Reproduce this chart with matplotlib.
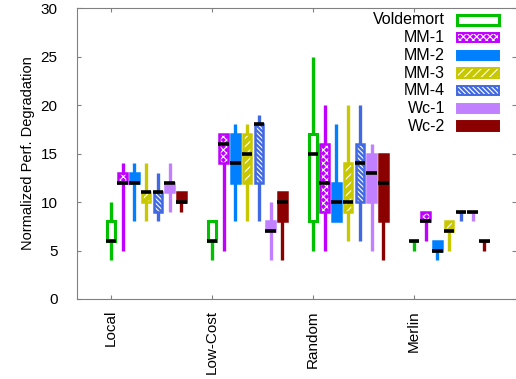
import matplotlib.pyplot as plt
from matplotlib.patches import Rectangle

plt.rcParams['font.family'] = ['Liberation Sans', 'DejaVu Sans']
plt.rcParams['hatch.linewidth'] = 0.8

groups = ['Local', 'Low-Cost', 'Random', 'Merlin']
series = ['Voldemort', 'MM-1', 'MM-2', 'MM-3', 'MM-4', 'Wc-1', 'Wc-2']
colors = ['#00c000', '#c000ff', '#0080ff', '#c8c800', '#4169e1', '#c080ff', '#8b0000']
hatches = [None, 'xxxxx', None, '////', '\\\\\\\\\\\\\\', None, None]

# per series: one value per group (Local, Low-Cost, Random, Merlin)
mins = {
    'Voldemort': [4, 4, 5, 5], 'MM-1': [5, 5, 5, 6], 'MM-2': [8, 8, 8, 4],
    'MM-3': [8, 8, 6, 5], 'MM-4': [8, 8, 6, 8], 'Wc-1': [9, 4, 5, 8],
    'Wc-2': [9, 4, 4, 5]}
q1s = {
    'Voldemort': [6, 6, 8, 6], 'MM-1': [12, 14, 9, 8], 'MM-2': [12, 12, 8, 5],
    'MM-3': [10, 12, 9, 7], 'MM-4': [9, 12, 10, 9], 'Wc-1': [11, 7, 10, 9],
    'Wc-2': [10, 8, 8, 6]}
medians = {
    'Voldemort': [6, 6, 15, 6], 'MM-1': [12, 16, 12, 8], 'MM-2': [12, 14, 10, 5],
    'MM-3': [11, 15, 10, 7], 'MM-4': [11, 18, 14, 9], 'Wc-1': [12, 7, 13, 9],
    'Wc-2': [10, 10, 12, 6]}
q3s = {
    'Voldemort': [8, 8, 17, 6], 'MM-1': [13, 17, 16, 9], 'MM-2': [13, 17, 12, 6],
    'MM-3': [11, 17, 14, 8], 'MM-4': [11, 18, 16, 9], 'Wc-1': [12, 8, 15, 9],
    'Wc-2': [11, 11, 15, 6]}
maxs = {
    'Voldemort': [10, 8, 25, 6], 'MM-1': [14, 17, 20, 9], 'MM-2': [14, 18, 18, 6],
    'MM-3': [14, 18, 20, 8], 'MM-4': [13, 19, 20, 9], 'Wc-1': [14, 10, 16, 9],
    'Wc-2': [11, 11, 15, 6]}

fig = plt.figure(figsize=(5.16, 3.79), dpi=100)
ax = fig.add_axes([77 / 516, 80 / 379, 439 / 516, 291 / 379])

step = 0.116
bw = 0.085
for i, name in enumerate(series):
    c = colors[i]
    xs = [g + i * step for g in range(len(groups))]
    lo = q1s[name]
    h = [q3 - q1 for q1, q3 in zip(q1s[name], q3s[name])]
    ax.vlines(xs, mins[name], maxs[name], colors=c, lw=2.4, zorder=1)
    if name == 'Voldemort':
        ax.bar(xs, h, bw, bottom=lo, facecolor='white', edgecolor=c, lw=2.2, zorder=2)
    else:
        ax.bar(xs, h, bw, bottom=lo, facecolor=c, edgecolor='white', lw=0,
               hatch=hatches[i], zorder=2)
        ax.bar(xs, h, bw, bottom=lo, fill=False, edgecolor=c, lw=1.8, zorder=3)
    ax.hlines(medians[name], [x - 0.052 for x in xs], [x + 0.052 for x in xs],
              colors='black', lw=2.6, zorder=4)

# legend drawn by hand, gnuplot style
for i, name in enumerate(series):
    y = 0.959 - i * 0.0608
    ax.text(0.838, y, name, transform=ax.transAxes, ha='right', va='center', fontsize=11.5)
    if name == 'Voldemort':
        ax.add_patch(Rectangle((0.866, y - 0.016), 0.095, 0.032, transform=ax.transAxes,
                               facecolor='white', edgecolor=colors[i], lw=2.2))
    else:
        ax.add_patch(Rectangle((0.866, y - 0.016), 0.095, 0.032, transform=ax.transAxes,
                               facecolor=colors[i], edgecolor='white', lw=0,
                               hatch=hatches[i]))
        ax.add_patch(Rectangle((0.866, y - 0.016), 0.095, 0.032, transform=ax.transAxes,
                               fill=False, edgecolor=colors[i], lw=1.4))

ax.set_xlim(-0.337, 4.01)
ax.set_ylim(0, 30)
ax.set_yticks(range(0, 31, 5))
ax.set_xticks(range(len(groups)))
ax.set_xticklabels(groups, rotation=90)
ax.set_ylabel('Normalized Perf. Degradation', fontsize=10.5)
for s in ax.spines.values():
    s.set_color('#808080')
ax.spines['right'].set_visible(False)
ax.tick_params(axis='both', direction='in', length=3, color='#808080', labelsize=11,
               top=True, right=True)
ax.tick_params(axis='y', pad=14)
ax.tick_params(axis='x', pad=8)

fig.savefig('out.png', dpi=100)
